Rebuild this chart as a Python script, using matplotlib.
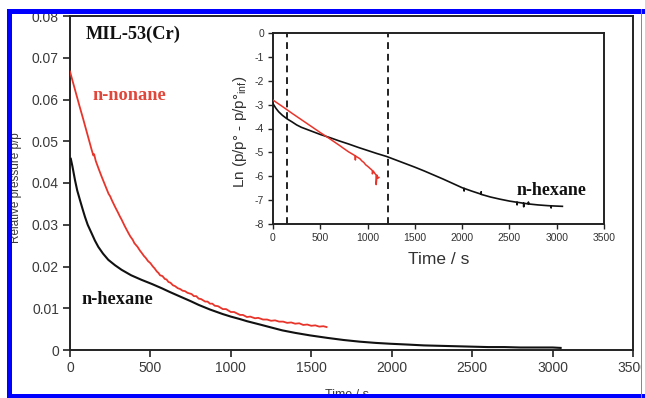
import matplotlib
matplotlib.use("Agg")
import matplotlib.pyplot as plt
from matplotlib.patches import Rectangle

plt.rcParams["font.family"] = ["Liberation Sans", "DejaVu Sans"]
plt.rcParams["mathtext.fontset"] = "custom"
plt.rcParams["mathtext.rm"] = "Liberation Sans"
plt.rcParams["mathtext.it"] = "Liberation Sans"

# ---- main panel: relative pressure vs time ----
nonane_t = [0, 20, 40, 60, 80, 100, 120, 135, 145, 150, 160, 180, 197, 220, 240,
            250, 260, 280, 300, 310, 320, 340, 362, 375, 390, 400, 420, 435, 445,
            460, 470, 485, 500, 515, 525, 540, 549, 560, 575, 590, 600, 612, 625,
            640, 653, 670, 685, 700, 715, 730, 756, 770, 785, 800, 815, 840, 855,
            870, 885, 900, 920, 950, 970, 1000, 1020, 1057, 1075, 1100, 1120, 1150,
            1170, 1200, 1225, 1250, 1275, 1300, 1325, 1350, 1375, 1400, 1425, 1450,
            1475, 1500, 1525, 1550, 1575, 1595]
nonane_p = [0.0667, 0.0639, 0.0611, 0.0583, 0.0556, 0.0528, 0.0500, 0.0479, 0.0466,
            0.0469, 0.0453, 0.0432, 0.0415, 0.0393, 0.0374, 0.0368, 0.0359, 0.0343,
            0.0328, 0.0320, 0.0313, 0.0297, 0.0281, 0.0272, 0.0264, 0.0256, 0.0247,
            0.0238, 0.0233, 0.0225, 0.0221, 0.0213, 0.0208, 0.0200, 0.0196, 0.0188,
            0.0185, 0.0179, 0.0177, 0.0170, 0.0169, 0.0163, 0.0161, 0.0155, 0.0153,
            0.0148, 0.0146, 0.0142, 0.0141, 0.0137, 0.0134, 0.0129, 0.0129, 0.0123,
            0.0122, 0.0116, 0.0116, 0.0111, 0.0111, 0.0106, 0.0105, 0.0098, 0.0098,
            0.0091, 0.0091, 0.0084, 0.0084, 0.0079, 0.0080, 0.0076, 0.0077, 0.0073,
            0.0073, 0.0070, 0.0071, 0.0068, 0.0068, 0.0065, 0.0066, 0.0063, 0.0064,
            0.0060, 0.0061, 0.0058, 0.0059, 0.0056, 0.0057, 0.0055]

hexane_t = [5, 15, 31, 45, 62, 78, 93, 110, 135, 155, 176, 205, 238, 280, 321, 380,
            445, 510, 570, 620, 673, 750, 800, 870, 950, 1000, 1057, 1100, 1181, 1250,
            1320, 1400, 1492, 1600, 1700, 1800, 1900, 1989, 2100, 2200, 2300, 2400,
            2500, 2600, 2700, 2800, 2900, 3000, 3050]
hexane_p = [0.0458, 0.0440, 0.0407, 0.0382, 0.0359, 0.0338, 0.0319, 0.0300, 0.0279,
            0.0262, 0.0247, 0.0231, 0.0216, 0.0203, 0.0192, 0.0179, 0.0168, 0.0158,
            0.0148, 0.0139, 0.0130, 0.0117, 0.0108, 0.0097, 0.0086, 0.0080, 0.0074,
            0.0069, 0.0061, 0.0054, 0.0047, 0.0041, 0.0035, 0.0029, 0.0024, 0.0020,
            0.0017, 0.0015, 0.0013, 0.0011, 0.0010, 0.0009, 0.0008, 0.0007, 0.0007,
            0.0006, 0.0006, 0.0006, 0.0005]

main_xticks = [0, 500, 1000, 1500, 2000, 2500, 3000, 3500]
main_yticks = [0, 0.01, 0.02, 0.03, 0.04, 0.05, 0.06, 0.07, 0.08]
main_ylabels = ["0", "0.01", "0.02", "0.03", "0.04", "0.05", "0.06", "0.07", "0.08"]

# ---- inset: logarithmic driving force vs time ----
ln_nonane_t = [0, 100, 200, 300, 400, 500, 600, 700, 760, 800, 830, 860, 870, 871,
               872, 900, 920, 940, 960, 980, 1000, 1020, 1040, 1050, 1051, 1060,
               1080, 1090, 1091, 1100, 1110, 1120]
ln_nonane = [-2.81, -3.08, -3.36, -3.63, -3.90, -4.17, -4.43, -4.70, -4.87, -4.98,
             -5.05, -5.12, -5.15, -5.32, -5.15, -5.22, -5.27, -5.36, -5.42, -5.52,
             -5.58, -5.65, -5.72, -5.76, -5.90, -5.78, -5.90, -5.94, -6.35, -5.96,
             -6.08, -6.05]

ln_hexane_t = [0, 30, 60, 100, 150, 200, 250, 300, 400, 500, 600, 700, 800, 900,
               1000, 1100, 1200, 1300, 1400, 1500, 1600, 1700, 1800, 1900, 2000,
               2020, 2021, 2022, 2100, 2200, 2201, 2202, 2300, 2400, 2500, 2580,
               2581, 2582, 2650, 2651, 2652, 2700, 2701, 2702, 2800, 2900, 2940,
               2941, 2942, 3000, 3060]
ln_hexane = [-2.96, -3.15, -3.30, -3.45, -3.60, -3.72, -3.85, -3.95, -4.10, -4.25,
             -4.38, -4.52, -4.65, -4.79, -4.92, -5.05, -5.17, -5.32, -5.47, -5.62,
             -5.78, -5.95, -6.12, -6.30, -6.48, -6.51, -6.62, -6.51, -6.62, -6.75,
             -6.65, -6.76, -6.87, -6.96, -7.04, -7.09, -7.20, -7.09, -7.13, -7.28,
             -7.13, -7.16, -7.08, -7.16, -7.20, -7.23, -7.24, -7.33, -7.24, -7.25,
             -7.26]

window_t = [145, 1215]

ins_xticks = [0, 500, 1000, 1500, 2000, 2500, 3000, 3500]
ins_yticks = [0, -1, -2, -3, -4, -5, -6, -7, -8]

RED = "#e8352b"
DARK = "#222222"
TICKTXT = "#3a3a3a"

W, H = 645, 398
fig = plt.figure(figsize=(W / 100, H / 100), dpi=100)


def box(x0, y0, x1, y1):
    """Figure-fraction rectangle from pixel corners (y measured from top)."""
    return [x0 / W, 1 - y1 / H, (x1 - x0) / W, (y1 - y0) / H]


ax = fig.add_axes(box(70, 16, 633, 350))
ax.plot(hexane_t, hexane_p, color="#111111", lw=1.5, zorder=3)
ax.plot(nonane_t, nonane_p, color=RED, lw=1.3, zorder=4)
ax.set_xlim(0, 3500)
ax.set_ylim(0, 0.08)
ax.set_xticks(main_xticks)
ax.set_xticklabels([str(v) for v in main_xticks])
ax.set_yticks(main_yticks)
ax.set_yticklabels(main_ylabels)
ax.tick_params(direction="out", length=5, width=1.2, color=DARK,
               labelsize=10, labelcolor=TICKTXT, pad=3)
for s in ax.spines.values():
    s.set_color(DARK)
    s.set_linewidth(1.4)

serif_bold = dict(family=["Liberation Serif", "DejaVu Serif"], fontweight="bold")
ax.text(0.027, 0.946, "MIL-53(Cr)", transform=ax.transAxes, fontsize=13.2,
        color="#111111", ha="left", va="center", **serif_bold)
ax.text(0.039, 0.763, "n-nonane", transform=ax.transAxes, fontsize=13.2,
        color="#e0473a", ha="left", va="center", **serif_bold)
ax.text(0.020, 0.150, "n-hexane", transform=ax.transAxes, fontsize=13.2,
        color="#111111", ha="left", va="center", **serif_bold)

fig.text(347 / W, 1 - 389 / H, "Time / s", fontsize=9, color=TICKTXT,
         ha="center", va="top")
fig.text(16 / W, 1 - 188 / H, "Relative pressure p/p", fontsize=8.5,
         color=TICKTXT, rotation=90, ha="center", va="center")

# inset
ins = fig.add_axes(box(273, 33, 604, 224))
for t in window_t:
    ins.axvline(t, color="#222222", lw=1.4, ls=(0, (3.5, 2.5)), zorder=2)
ins.plot(ln_hexane_t, ln_hexane, color="#111111", lw=1.2, zorder=3)
ins.plot(ln_nonane_t, ln_nonane, color=RED, lw=1.1, zorder=4)
ins.set_xlim(0, 3500)
ins.set_ylim(-8, 0)
ins.set_xticks(ins_xticks)
ins.set_xticklabels([str(v) for v in ins_xticks])
ins.set_yticks(ins_yticks)
ins.set_yticklabels([str(v) for v in ins_yticks])
ins.tick_params(direction="out", length=3.5, width=1.0, color=DARK,
                labelsize=7.5, labelcolor="#333333", pad=3)
for s in ins.spines.values():
    s.set_color(DARK)
    s.set_linewidth(1.4)
ins.text(2950, -6.58, "n-hexane", fontsize=13, color="#111111",
         ha="center", va="center", **serif_bold)

fig.text(439 / W, 1 - 259 / H, "Time / s", fontsize=12.5, color="#333333",
         ha="center", va="center")
fig.text(240 / W, 1 - 132 / H, r"Ln (p/p° - p/p°$_{\mathrm{inf}}$)",
         fontsize=11, color="#333333", rotation=90, ha="center", va="center")

# page frame
for r in [box(0, 0, 7, 398), box(0, 0, 645, 9), box(642, 9, 645, 398)]:
    fig.add_artist(Rectangle((r[0], r[1]), r[2], r[3], transform=fig.transFigure,
                             facecolor="white", edgecolor="none", zorder=100))
for r in [box(7, 9, 12, 398), box(7, 9, 645, 14), box(7, 394, 645, 398)]:
    fig.add_artist(Rectangle((r[0], r[1]), r[2], r[3], transform=fig.transFigure,
                             facecolor="#0000ff", edgecolor="none", zorder=101))
r = box(640.5, 9, 642, 398)
fig.add_artist(Rectangle((r[0], r[1]), r[2], r[3], transform=fig.transFigure,
                         facecolor="#6f7fff", edgecolor="none", zorder=101))

fig.savefig("out.png", dpi=100)
